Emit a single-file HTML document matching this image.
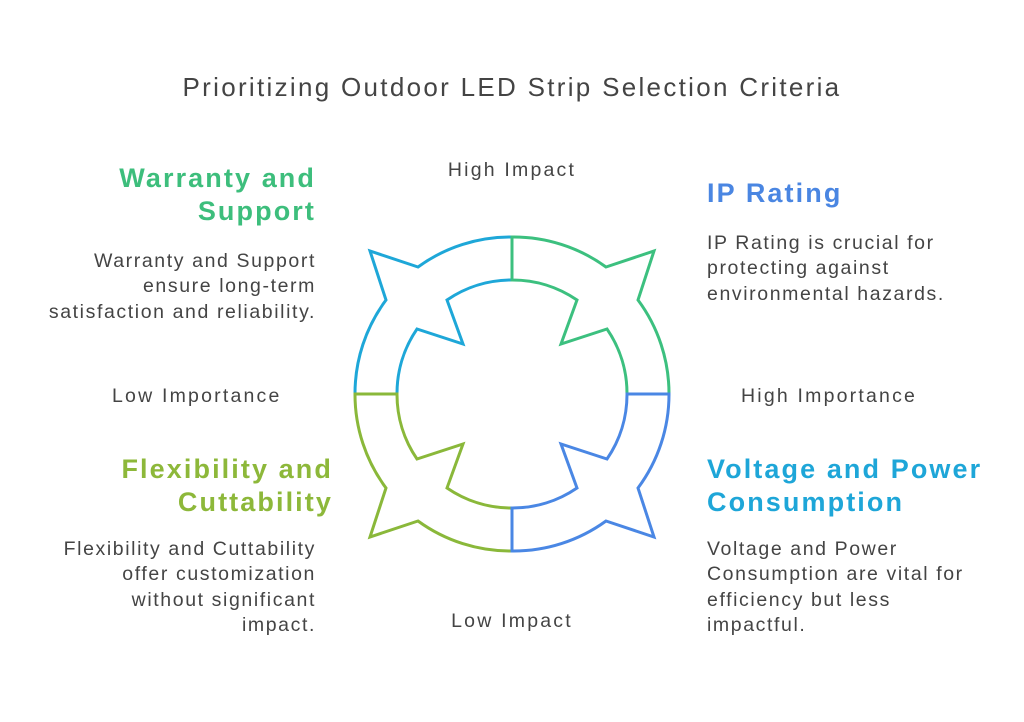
<!DOCTYPE html>
<html><head><meta charset="utf-8"><style>
body{margin:0;width:1024px;height:722px;background:#fff;position:relative;overflow:hidden;font-family:"Liberation Sans",sans-serif;color:#444}
div{position:absolute;white-space:nowrap}
.h{font-weight:bold;font-size:27px;line-height:33px;letter-spacing:2.1px}
.b{font-size:19.5px;line-height:25.3px;letter-spacing:1.6px}
.l{font-size:19.5px;line-height:24px;letter-spacing:2.2px}
.r{text-align:right}
</style></head><body>
<div style="left:0;width:1024px;top:70px;text-align:center;font-size:26px;line-height:34px;color:#444;letter-spacing:2.3px">Prioritizing Outdoor LED Strip Selection Criteria</div>
<div class="l" style="left:412px;width:200px;text-align:center;top:158px">High Impact</div>
<div class="l" style="left:412px;width:200px;text-align:center;top:609px">Low Impact</div>
<div class="l" style="left:112px;top:384px">Low Importance</div>
<div class="l" style="left:741px;top:384px">High Importance</div>
<div class="h r" style="right:708px;top:162px;color:#3DBE7C">Warranty and<br>Support</div>
<div class="b r" style="right:708px;top:249px">Warranty and Support<br>ensure long-term<br>satisfaction and reliability.</div>
<div class="h" style="left:707px;top:177px;color:#4A86E2">IP Rating</div>
<div class="b" style="left:707px;top:231px">IP Rating is crucial for<br>protecting against<br>environmental hazards.</div>
<div class="h r" style="right:691px;top:453px;color:#8DB83A">Flexibility and<br>Cuttability</div>
<div class="b r" style="right:708px;top:537px">Flexibility and Cuttability<br>offer customization<br>without significant<br>impact.</div>
<div class="h" style="left:707px;top:453px;color:#1EA6D8">Voltage and Power<br>Consumption</div>
<div class="b" style="left:707px;top:537px">Voltage and Power<br>Consumption are vital for<br>efficiency but less<br>impactful.</div>
<svg width="1024" height="722" style="position:absolute;left:0;top:0" fill="none" stroke-width="3" stroke-linejoin="miter">
<path stroke="#1EA7D8" d="M355,394 A157,157 0 0 1 386,300 L370,251 L418,267 A157,157 0 0 1 512,237 L512,280 A114,114 0 0 0 447,300 L463,344 L417,329 A114,114 0 0 0 397,394 Z"/>
<path stroke="#3CC07F" d="M669,394 A157,157 0 0 0 638,300 L654,251 L606,267 A157,157 0 0 0 512,237 L512,280 A114,114 0 0 1 577,300 L561,344 L607,329 A114,114 0 0 1 627,394 Z"/>
<path stroke="#8AB83A" d="M355,394 A157,157 0 0 0 386,488 L370,537 L418,521 A157,157 0 0 0 512,551 L512,508 A114,114 0 0 1 447,488 L463,444 L417,459 A114,114 0 0 1 397,394 Z"/>
<path stroke="#4A87E4" d="M669,394 A157,157 0 0 1 638,488 L654,537 L606,521 A157,157 0 0 1 512,551 L512,508 A114,114 0 0 0 577,488 L561,444 L607,459 A114,114 0 0 0 627,394 Z"/>
</svg>
</body></html>
